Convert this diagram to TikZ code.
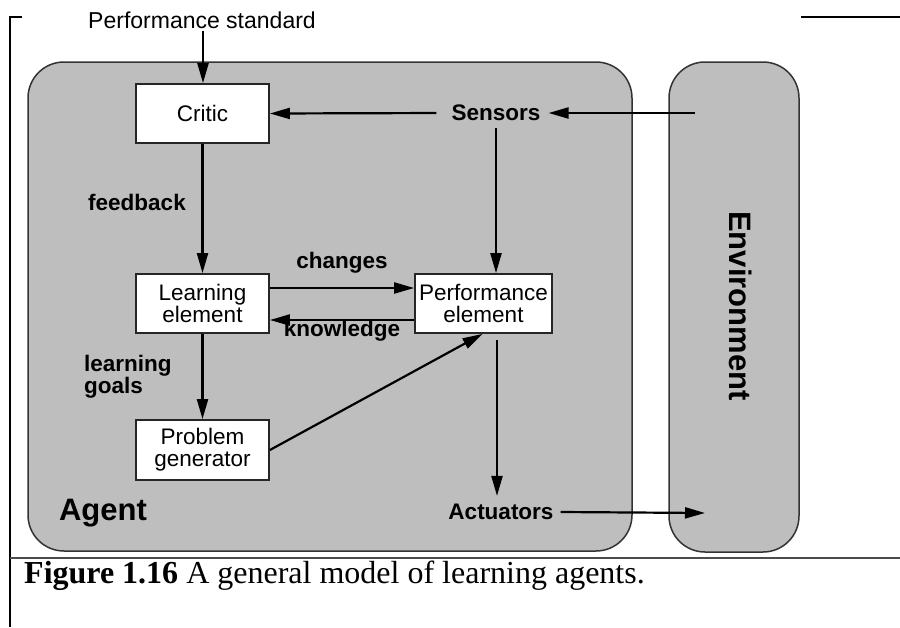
\documentclass[tikz,border=0pt]{standalone}
\usepackage{fontspec}
\setmainfont{Liberation Sans}
\newfontfamily\capfont{Liberation Serif}
\usetikzlibrary{arrows.meta}
\definecolor{agentgray}{HTML}{BEBEBE}
\begin{document}
\begin{tikzpicture}[x=1pt,y=-1pt,
  arr/.style={line width=2.2pt,-{Triangle[length=20pt,width=11pt]}},
  elbox/.style={draw=black!85,line width=1.8pt,fill=white,minimum width=133pt,minimum height=59pt,
    inner sep=0pt,align=center,font=\fontsize{22.5}{22}\selectfont},
  lbl/.style={font=\fontsize{22.5}{24}\selectfont\bfseries,inner sep=0pt},
  region/.style={draw=black!80,line width=1.5pt,fill=agentgray,rounded corners=36pt}]
\useasboundingbox (0,0) rectangle (900,627);
\fill[white] (0,0) rectangle (900,627);
% page frame
\draw[line width=1.2pt] (22,17) -- (10,17) -- (10,627);
\draw[line width=1.2pt] (801,17) -- (900,17);
\draw[line width=2pt,black!70] (10,558) -- (900,558);
% regions
\draw[region] (28,62) rectangle (632,551);
\draw[region] (669,62) rectangle (799,552);
% nodes
\node[font=\fontsize{23}{23}\selectfont,inner sep=0pt] (ps) at (202,20) {Performance standard};
\node[elbox] (critic) at (202.5,113.5) {Critic};
\node[elbox] (learn) at (202.5,303.5) {Learning\\element};
\node[elbox,minimum width=137pt] (pe) at (483.5,303.5) {Performance\\element};
\node[elbox,minimum height=60pt] (pg) at (202.5,450) {Problem\\generator};
\node[lbl,inner xsep=8pt,inner ysep=7pt] (sensors) at (496,113) {Sensors};
\node[lbl,inner xsep=7pt,inner ysep=8pt] (actuators) at (501,512) {Actuators};
\node[lbl] (feedback) at (137,202) {feedback};
\node[lbl,align=left,anchor=north west,font=\fontsize{22.5}{22}\selectfont\bfseries] (goals) at (84,355) {learning\\goals};
\node[lbl] (changes) at (342,263) {changes};
\node[lbl] (knowledge) at (342,331) {knowledge};
\node[font=\fontsize{31}{31}\selectfont\bfseries,inner sep=0pt] (agent) at (103,513) {Agent};
\node[font=\fontsize{31}{31}\selectfont\bfseries,inner sep=0pt,rotate=-90] (env) at (741,306) {Environment};
\coordinate (envS) at (695,113);
\coordinate (envA) at (705,513);
% connectors
\draw[arr] (ps.south) ++(1,2) coordinate (psb) -- (psb |- critic.north);
\draw[arr] (envS) -- (sensors.east);
\draw[arr,shorten <=7pt] (sensors.west) -- (critic.east);
\draw[arr] (sensors.south) -- (sensors.south |- pe.north);
\draw[arr] (critic.south) -- (learn.north);
\draw[arr] ([yshift=15.5pt]learn.east) -- ([yshift=15.5pt]learn.east -| pe.west);
\draw[arr] ([yshift=-16.5pt]pe.west) -- ([yshift=-16.5pt]pe.west -| learn.east);
\draw[arr] (learn.south) -- (pg.north);
\draw[arr] (pg.east) -- ([xshift=-1pt]pe.south);
\draw[arr,shorten <=6pt] ([xshift=13.5pt]pe.south) -- ([xshift=13.5pt]pe.south |- actuators.north);
\draw[arr] (actuators.east) -- (envA);
% caption
\node[anchor=base west,inner sep=0pt,font=\capfont\fontsize{32}{32}\selectfont] (cap) at (24,583)
  {\textbf{Figure 1.16} A general model of learning agents.};
\end{tikzpicture}
\end{document}
